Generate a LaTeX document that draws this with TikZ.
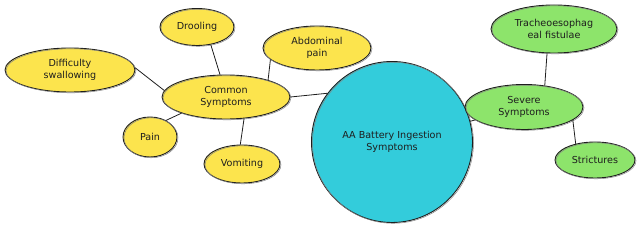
\documentclass[tikz,border=0pt]{standalone}
\usepackage{fontspec}
\setmainfont{DejaVu Sans}
\usetikzlibrary{shapes.geometric}
\definecolor{yel}{HTML}{FCE44D}
\definecolor{tea}{HTML}{33CCDB}
\definecolor{grn}{HTML}{8DE46B}
\definecolor{ink}{HTML}{1E1E1E}
\tikzset{
  bubble/.style={ellipse, draw=ink, line width=0.9pt, inner sep=0pt, align=center,
    font=\fontsize{9.6}{12}\selectfont, text=ink,
    postaction={draw=ink!55, line width=0.5pt, transform canvas={xshift=1pt, yshift=-0.8pt}}},
  ybub/.style={bubble, fill=yel},
  gbub/.style={bubble, fill=grn},
  link/.style={draw=ink, line width=0.8pt}
}
\begin{document}
\begin{tikzpicture}[x=1pt,y=-1pt]
\useasboundingbox (0,0) rectangle (640,229);
\node[ybub, minimum width=128pt, minimum height=44pt] (common) at (226,97) {Common\\Symptoms};
\node[ybub, minimum width=74pt, minimum height=37pt] (drool) at (197,27) {Drooling};
\node[ybub, minimum width=130pt, minimum height=44pt] (diff) at (70,70) {Difficulty\\swallowing};
\node[ybub, minimum width=54pt, minimum height=40pt] (pain) at (150,137) {Pain};
\node[ybub, minimum width=76pt, minimum height=38pt] (vomit) at (242,164) {Vomiting};
\node[ybub, minimum width=108pt, minimum height=44pt] (abd) at (317,48) {Abdominal\\pain};
\node[bubble, circle, fill=tea, minimum size=161pt] (main) at (392,142) {AA Battery Ingestion\\Symptoms};
\node[gbub, minimum width=118pt, minimum height=45pt] (severe) at (524,107) {Severe\\Symptoms};
\node[gbub, minimum width=126pt, minimum height=48pt] (trach) at (554,29) {Tracheoesophag\\eal fistulae};
\node[gbub, minimum width=80pt, minimum height=36pt] (strict) at (595,160) {Strictures};
\draw[link] (drool.-52) -- (common.105);
\draw[link] (diff.2) -- (common.174);
\draw[link] (abd.-166) -- (common.22);
\draw[link] (pain.46) -- (common.200);
\draw[link] (vomit.95) -- (common.-50);
\draw[link] (common.east) -- (main.143);
\draw[link] (main) -- (severe);
\draw[link] (severe.46) -- (trach.-106);
\draw[link] (severe.-15) -- (strict.140);
\end{tikzpicture}
\end{document}
